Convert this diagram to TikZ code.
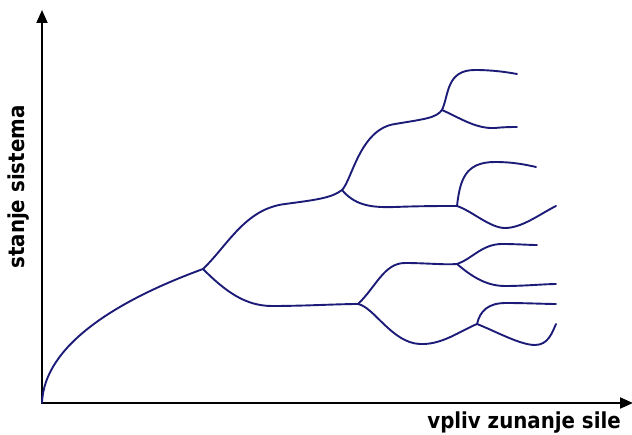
\documentclass[tikz,border=0pt]{standalone}
\usepackage{fontspec}
\usepackage{tikz}
\usetikzlibrary{arrows.meta}
\setsansfont{DejaVu Sans Condensed}
\definecolor{BranchInk}{HTML}{1C1C78}
\tikzset{
  figure/.style={x=1pt,y=-1pt},
  axis/.style={{Triangle[length=13pt,width=11pt]}-{Triangle[length=13pt,width=11pt]},line width=1.9pt,draw=black},
  branch/.style={line width=1.9pt,draw=BranchInk,line cap=round},
  axislabel/.style={font=\sffamily\bfseries\fontsize{22}{26}\selectfont,inner sep=0pt},
}

\begin{document}
\begin{tikzpicture}[figure]
  \useasboundingbox (0,0) rectangle (632,435);

  % axes
  \coordinate (origin) at (42,403);
  \coordinate (ytip) at (42,10);
  \coordinate (xtip) at (633,403);
  \draw[axis] (ytip) -- (origin) -- (xtip);

  \node[axislabel,rotate=90] (ylabel) at (19,187) {stanje sistema};
  \node[axislabel,anchor=base east] (xlabel) at (621,429) {vpliv zunanje sile};

  % branch points
  \coordinate (A) at (203,269);
  \coordinate (B) at (342,190);
  \coordinate (C) at (358,304);
  \coordinate (D) at (442,110);
  \coordinate (E) at (457,206);
  \coordinate (F) at (457,264);
  \coordinate (G) at (477,324);

  \draw[branch] (origin) .. controls (44,345) and (118,300) .. (A);

  % upper trunk A -> B -> D
  \draw[branch] (A) .. controls (228,245) and (245,209) .. (285,204)
                    .. controls (315,200) and (332,198) .. (B)
                    .. controls (352,180) and (360,129) .. (395,124)
                    .. controls (425,119) and (436,118) .. (D);
  \draw[branch] (D) .. controls (449,95) and (446,70) .. (475,70)
                    .. controls (492,70) and (506,72) .. (517,74);
  \draw[branch] (D) .. controls (460,118) and (476,129) .. (495,128)
                    .. controls (505,127) and (512,127) .. (517,127);

  \draw[branch] (B) .. controls (354,204) and (368,208) .. (395,207)
                    .. controls (420,206) and (442,206) .. (E);
  \draw[branch] (E) .. controls (460,180) and (465,162) .. (495,162)
                    .. controls (514,162) and (527,165) .. (536,167);
  \draw[branch] (E) .. controls (472,211) and (490,228) .. (505,228)
                    .. controls (522,228) and (540,214) .. (556,206);

  % lower trunk A -> C
  \draw[branch] (A) .. controls (225,291) and (245,306) .. (272,306)
                    .. controls (305,306) and (338,304) .. (C);
  \draw[branch] (C) .. controls (376,287) and (384,263) .. (405,263)
                    .. controls (425,263) and (445,265) .. (F);
  \draw[branch] (F) .. controls (472,259) and (482,244) .. (502,244)
                    .. controls (517,244) and (528,245) .. (537,245);
  \draw[branch] (F) .. controls (470,275) and (485,286) .. (505,286)
                    .. controls (525,286) and (545,284) .. (556,284);

  \draw[branch] (C) .. controls (374,307) and (392,343) .. (420,344)
                    .. controls (442,345) and (460,331) .. (G);
  \draw[branch] (G) .. controls (480,311) and (488,303) .. (506,303)
                    .. controls (526,303) and (545,304) .. (556,304);
  \draw[branch] (G) .. controls (495,331) and (520,345) .. (535,345)
                    .. controls (548,345) and (552,333) .. (556,324);
\end{tikzpicture}
\end{document}
